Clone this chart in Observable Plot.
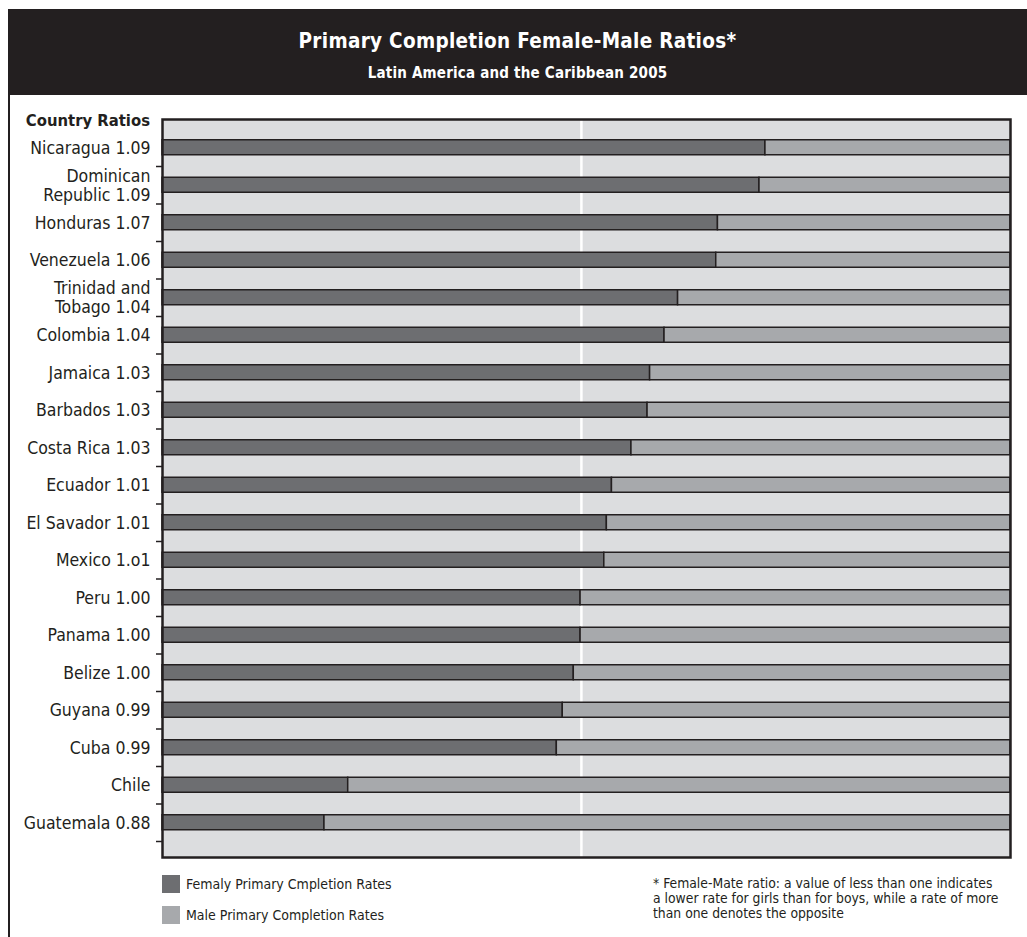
<!DOCTYPE html>
<html><head><meta charset="utf-8">
<script src="https://cdn.jsdelivr.net/npm/d3@7"></script>
<script src="https://cdn.jsdelivr.net/npm/@observablehq/plot@0.6"></script>
<style>
body{margin:0;background:#fff;}
#page{position:relative;width:1027px;height:937px;overflow:hidden;font-family:"Liberation Sans Narrow","DejaVu Sans Condensed","Arial Narrow",sans-serif;color:#231f20;}
#header{position:absolute;left:8px;top:9px;width:1019px;height:86px;background:#231f20;color:#fff;text-align:center;}
#title{position:absolute;left:0;right:0;top:20px;font-size:20.5px;font-weight:bold;letter-spacing:0.3px;}
#subtitle{position:absolute;left:0;right:0;top:55px;font-size:15px;font-weight:bold;letter-spacing:0.2px;}
#border{position:absolute;left:8px;top:95px;width:2px;height:842px;background:#231f20;}
#chart{position:absolute;left:0;top:95px;}
#ylab{position:absolute;left:0;width:150px;text-align:right;top:111px;font-size:16.5px;font-weight:bold;}
.leg{position:absolute;left:162px;font-size:14px;display:flex;align-items:center;}
.sw{width:18px;height:18px;margin-right:6px;}
#note{position:absolute;left:653px;top:876px;font-size:13.8px;line-height:15px;white-space:pre;}
</style></head>
<body><div id="page">
<div id="header"><div id="title"></div><div id="subtitle"></div></div>
<div id="border"></div>
<div id="ylab"></div>
<div id="chart"></div>
<div class="leg" id="leg0" style="top:875px"></div>
<div class="leg" id="leg1" style="top:906px"></div>
<div id="note"></div>
</div>
<script>
const titleText = "Primary Completion Female-Male Ratios*";
const subtitleText = "Latin America and the Caribbean 2005";
const axisTitle = "Country Ratios";
const countries = ["Nicaragua","Dominican\nRepublic","Honduras","Venezuela","Trinidad and\nTobago","Colombia","Jamaica","Barbados","Costa Rica","Ecuador","El Savador","Mexico","Peru","Panama","Belize","Guyana","Cuba","Chile","Guatemala"];
const ratios = ["1.09","1.09","1.07","1.06","1.04","1.04","1.03","1.03","1.03","1.01","1.01","1.o1","1.00","1.00","1.00","0.99","0.99","","0.88"];
const femaleShare = [71.1,70.4,65.5,65.3,60.8,59.2,57.5,57.2,55.3,53.0,52.4,52.1,49.3,49.3,48.5,47.2,46.5,21.9,19.1];
const maleShare = [28.9,29.6,34.5,34.7,39.2,40.8,42.5,42.8,44.7,47.0,47.6,47.9,50.7,50.7,51.5,52.8,53.5,78.1,80.9];
const seriesNames = ["Femaly Primary Cmpletion Rates","Male Primary Completion Rates"];
const seriesColors = ["#6d6e71","#a7a9ac"];
const refLine = 49.4;
const noteLines = ["* Female-Mate ratio: a value of less than one indicates","a lower rate for girls than for boys, while a rate of more","than one denotes the opposite"];

document.getElementById("title").textContent = titleText;
document.getElementById("subtitle").textContent = subtitleText;
document.getElementById("ylab").textContent = axisTitle;
document.getElementById("note").textContent = noteLines.join("\n");
seriesNames.forEach((s,i)=>{
  const el = document.getElementById("leg"+i);
  el.innerHTML = `<div class="sw" style="background:${seriesColors[i]}"></div><span></span>`;
  el.querySelector("span").textContent = s;
});

const rows = countries.flatMap((c,i)=>[
  {country:c, series:seriesNames[0], value:femaleShare[i]},
  {country:c, series:seriesNames[1], value:maleShare[i]}
]);
const labelOf = new Map(countries.map((c,i)=>[c, ratios[i] ? c + " " + ratios[i] : c]));
const font = '"Liberation Sans Narrow","DejaVu Sans Condensed","Arial Narrow",sans-serif';

const chart = Plot.plot({
  width: 1027, height: 775,
  marginLeft: 162, marginRight: 17, marginTop: 24, marginBottom: 13,
  style: {fontFamily: font, fontSize: "17.5px", color: "#231f20", background: "transparent"},
  x: {domain: [0,100], axis: null},
  y: {type: "band", domain: countries, range: [33.5, 746], padding: 0, round: false},
  color: {domain: seriesNames, range: seriesColors},
  marks: [
    Plot.frame({fill: "#dcdddf", stroke: null}),
    Plot.ruleX([refLine], {stroke: "#ffffff", strokeWidth: 2.5}),
    Plot.barX(rows, Plot.stackX({y: "country", x: "value", fill: "series", stroke: "#231f20", strokeWidth: 1.5, insetTop: 11.25, insetBottom: 11.25})),
    Plot.axisY({tickSize: 0, tickPadding: 12, label: null, tickFormat: d => labelOf.get(d), lineHeight: 1.08, fontSize: 17.5, fill: "#231f20"}),
    Plot.axisY({fill: "none", tickSize: 6, dy: 18.75, label: null, stroke: "#231f20", strokeWidth: 1.5}),
    Plot.frame({stroke: "#231f20", strokeWidth: 2.5})
  ]
});
document.getElementById("chart").appendChild(chart);
</script>
</body></html>
